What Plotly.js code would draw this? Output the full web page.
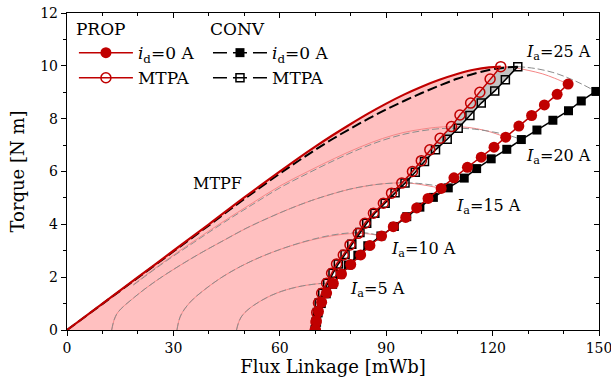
<!DOCTYPE html>
<html>
<head>
<meta charset="utf-8">
<script src="https://cdn.plot.ly/plotly-3.0.1.min.js"></script>
<style>html,body{margin:0;padding:0;background:#fff;}#chart{width:611px;height:385px;}</style>
</head>
<body>
<div id="chart"></div>
<script>
// ---------------- data (flux linkage in mWb, torque in Nm) ----------------
// MTPF boundaries
const mtpfPropFlux   = [0, 10, 20, 30, 40, 50, 60, 65, 70, 75, 80, 85, 90, 95, 100, 105, 110, 115, 119, 122.3];
const mtpfPropTorque = [0, 1.0, 2.0, 3.0, 4.0, 5.02, 6.0, 6.48, 6.94, 7.38, 7.8, 8.2, 8.57, 8.91, 9.21, 9.47, 9.69, 9.86, 9.94, 9.97];
const mtpfConvFlux   = [0, 10, 20, 30, 40, 50, 60, 65, 70, 75, 80, 85, 90, 95, 100, 105, 110, 115, 120, 124, 127.1];
const mtpfConvTorque = [0, 0.99, 1.98, 2.97, 3.96, 4.96, 5.92, 6.38, 6.82, 7.24, 7.63, 8.0, 8.35, 8.67, 8.97, 9.25, 9.51, 9.71, 9.87, 9.94, 9.97];

// id = 0 trajectories (0..25 A)
const id0PropFlux   = [70.0, 70.3, 70.9, 71.8, 73.2, 75.1, 77.4, 80.0, 82.8, 85.4, 88.7, 92.0, 95.5, 98.6, 101.8, 105.5, 109.1, 112.9, 116.8, 120.4, 123.7, 127.4, 131.0, 134.6, 138.2, 141.3];
const id0PropTorque = [0, 0.35, 0.70, 1.05, 1.40, 1.76, 2.12, 2.48, 2.84, 3.20, 3.56, 3.91, 4.26, 4.62, 4.98, 5.36, 5.76, 6.16, 6.54, 6.92, 7.30, 7.72, 8.12, 8.52, 8.92, 9.31];
const id0ConvFlux   = [70.0, 70.2, 70.8, 71.7, 73.1, 74.9, 77.0, 79.3, 82.0, 84.8, 88.5, 92.3, 95.8, 99.5, 103.3, 107.5, 112.0, 115.5, 119.6, 124.0, 128.1, 132.5, 137.0, 141.4, 145.0, 149.1];
const id0ConvTorque = [0, 0.30, 0.65, 1.00, 1.37, 1.73, 2.10, 2.46, 2.83, 3.19, 3.56, 3.92, 4.29, 4.65, 5.02, 5.38, 5.75, 6.11, 6.48, 6.84, 7.21, 7.57, 7.94, 8.30, 8.67, 9.03];

// MTPA trajectories (0..25 A)
const mtpaPropFlux   = [70.0, 70.2, 70.4, 70.9, 71.8, 73.2, 74.6, 76.0, 77.9, 79.8, 82.1, 84.0, 86.4, 89.2, 91.5, 94.4, 97.4, 99.9, 102.3, 105.2, 108.4, 110.8, 113.8, 116.4, 119.3, 122.3];
const mtpaPropTorque = [0, 0.30, 0.66, 1.02, 1.39, 1.77, 2.15, 2.50, 2.84, 3.22, 3.66, 4.04, 4.42, 4.80, 5.18, 5.56, 6.00, 6.41, 6.82, 7.26, 7.70, 8.14, 8.59, 9.00, 9.50, 9.97];
const mtpaConvFlux   = [70.0, 70.3, 70.6, 71.1, 72.1, 73.5, 75.0, 76.5, 78.4, 80.3, 82.6, 84.5, 86.8, 89.7, 92.5, 95.3, 98.2, 100.8, 103.9, 107.2, 110.3, 113.6, 116.8, 120.6, 123.6, 127.1];
const mtpaConvTorque = [0, 0.30, 0.66, 1.02, 1.39, 1.77, 2.15, 2.50, 2.86, 3.25, 3.69, 4.04, 4.42, 4.80, 5.20, 5.56, 5.97, 6.38, 6.82, 7.22, 7.64, 8.12, 8.59, 9.05, 9.47, 9.97];

// constant-current loci, PROP
const arcProp5Flux    = [47.8, 48.3, 49.1, 50.6, 52.6, 55.0, 57.6, 60.4, 63.4, 66.4, 69.4, 71.5, 73.2, 75.1];
const arcProp5Torque  = [0, 0.25, 0.49, 0.72, 0.93, 1.13, 1.31, 1.46, 1.58, 1.67, 1.73, 1.76, 1.77, 1.76];
const arcProp10Flux   = [31.0, 32.0, 34.7, 38.8, 43.7, 49.0, 54.7, 60.5, 66.5, 72.0, 77.0, 82.1, 85.5, 88.7];
const arcProp10Torque = [0, 0.53, 1.05, 1.53, 2.0, 2.41, 2.77, 3.07, 3.32, 3.5, 3.61, 3.66, 3.63, 3.56];
const arcProp15Flux   = [12.6, 14.0, 19.1, 25.0, 31.3, 37.8, 44.3, 50.5, 56.9, 63.0, 68.9, 74.5, 79.7, 84.7, 89.5, 94.4, 98.0, 101.8, 105.5];
const arcProp15Torque = [0, 0.6, 1.25, 1.85, 2.4, 2.92, 3.4, 3.85, 4.25, 4.6, 4.9, 5.14, 5.33, 5.46, 5.54, 5.57, 5.54, 5.46, 5.36];
const arcProp20Flux   = [18.7, 27.0, 35.6, 44.0, 52.2, 60.0, 67.9, 75.5, 82.5, 89.0, 95.0, 100.0, 104.0, 108.4, 113.0, 118.0, 123.7];
const arcProp20Torque = [1.72, 2.55, 3.35, 4.1, 4.8, 5.45, 6.0, 6.5, 6.92, 7.25, 7.48, 7.6, 7.67, 7.70, 7.67, 7.55, 7.30];
const arcProp25Flux   = [122.3, 126.0, 130.0, 134.0, 137.5, 141.3];
const arcProp25Torque = [9.97, 9.93, 9.83, 9.7, 9.53, 9.31];

// constant-current loci, CONV
const arcConv5Flux    = [47.8, 48.3, 49.1, 50.6, 52.6, 55.0, 57.6, 60.4, 63.4, 66.4, 69.4, 71.6, 73.5, 74.9];
const arcConv5Torque  = [0, 0.25, 0.49, 0.72, 0.93, 1.13, 1.31, 1.46, 1.58, 1.67, 1.73, 1.76, 1.77, 1.73];
const arcConv10Flux   = [31.0, 32.0, 34.7, 38.8, 43.7, 49.0, 54.7, 60.5, 66.5, 72.0, 77.0, 82.6, 85.6, 88.5];
const arcConv10Torque = [0, 0.53, 1.05, 1.53, 2.0, 2.41, 2.77, 3.07, 3.33, 3.52, 3.64, 3.69, 3.65, 3.56];
const arcConv15Flux   = [12.6, 14.0, 19.1, 25.0, 31.3, 37.8, 44.3, 50.5, 56.9, 63.0, 68.9, 74.5, 79.7, 84.7, 89.5, 95.3, 99.0, 103.3, 107.5];
const arcConv15Torque = [0, 0.6, 1.25, 1.85, 2.4, 2.92, 3.4, 3.85, 4.25, 4.6, 4.9, 5.14, 5.33, 5.46, 5.54, 5.57, 5.55, 5.48, 5.38];
const arcConv20Flux   = [18.7, 27.0, 35.6, 44.0, 52.2, 60.0, 67.9, 75.5, 82.5, 89.0, 95.0, 100.0, 105.0, 110.3, 115.0, 120.0, 124.5, 128.1];
const arcConv20Torque = [1.7, 2.52, 3.3, 4.05, 4.74, 5.38, 5.93, 6.43, 6.85, 7.18, 7.41, 7.54, 7.62, 7.64, 7.6, 7.5, 7.37, 7.21];
const arcConv25Flux   = [127.1, 132.0, 137.0, 141.0, 145.0, 149.1];
const arcConv25Torque = [9.97, 9.9, 9.75, 9.56, 9.32, 9.03];

// annotation labels
const currentLabels = ['<i>I</i><sub>a</sub>=5 A', '<i>I</i><sub>a</sub>=10 A', '<i>I</i><sub>a</sub>=15 A', '<i>I</i><sub>a</sub>=20 A', '<i>I</i><sub>a</sub>=25 A'];
const labelFlux   = [87.5, 100.5, 118.8, 138.6, 138.6];
const labelTorque = [1.55, 3.03, 4.66, 6.57, 10.5];

// ---------------- styling ----------------
const RED = '#C00000';
const FONT = '"DejaVu Serif"';
const pinkArc = {color: 'rgb(245,135,135)', width: 1, shape: 'spline'};
const grayArc = {color: 'rgb(140,140,140)', width: 1, dash: '7px,3px', shape: 'spline'};

const traces = [];
// pink feasible region
traces.push({
  x: mtpfPropFlux.concat(mtpaPropFlux.slice().reverse()).concat([0]),
  y: mtpfPropTorque.concat(mtpaPropTorque.slice().reverse()).concat([0]),
  mode: 'lines', fill: 'toself', fillcolor: 'rgb(255,192,192)',
  line: {width: 0}, hoverinfo: 'skip', showlegend: false
});
// gray band between MTPA trajectories
traces.push({
  x: mtpaPropFlux.concat(mtpaConvFlux.slice().reverse()),
  y: mtpaPropTorque.concat(mtpaConvTorque.slice().reverse()),
  mode: 'lines', fill: 'toself', fillcolor: 'rgb(195,195,195)',
  line: {width: 0}, hoverinfo: 'skip', showlegend: false
});
// current arcs
[[arcProp5Flux, arcProp5Torque], [arcProp10Flux, arcProp10Torque], [arcProp15Flux, arcProp15Torque],
 [arcProp20Flux, arcProp20Torque], [arcProp25Flux, arcProp25Torque]].forEach(a => {
  traces.push({x: a[0], y: a[1], mode: 'lines', line: pinkArc, showlegend: false, hoverinfo: 'skip'});
});
[[arcConv5Flux, arcConv5Torque], [arcConv10Flux, arcConv10Torque], [arcConv15Flux, arcConv15Torque],
 [arcConv20Flux, arcConv20Torque], [arcConv25Flux, arcConv25Torque]].forEach(a => {
  traces.push({x: a[0], y: a[1], mode: 'lines', line: grayArc, showlegend: false, hoverinfo: 'skip'});
});

// MTPF lines
traces.push({x: mtpfConvFlux, y: mtpfConvTorque, mode: 'lines', line: {color: '#000', width: 2, dash: '10px,4px', shape: 'spline'}, showlegend: false});
traces.push({x: mtpfPropFlux, y: mtpfPropTorque, mode: 'lines', line: {color: RED, width: 2.2, shape: 'spline'}, showlegend: false});

// CONV trajectories
traces.push({x: id0ConvFlux, y: id0ConvTorque, mode: 'lines+markers', line: {color: '#000', width: 1.5},
  marker: {symbol: 'square', size: 9, color: '#000'}, showlegend: false});
traces.push({x: mtpaConvFlux, y: mtpaConvTorque, mode: 'lines+markers', line: {color: '#000', width: 1.5},
  marker: {symbol: 'square', size: 8, color: 'rgba(255,255,255,0)', line: {color: '#000', width: 1.5}}, showlegend: false});
// PROP trajectories
traces.push({x: id0PropFlux, y: id0PropTorque, mode: 'lines+markers', line: {color: RED, width: 1.5},
  marker: {symbol: 'circle', size: 11, color: RED}, showlegend: false});
traces.push({x: mtpaPropFlux, y: mtpaPropTorque, mode: 'lines+markers', line: {color: RED, width: 1.5},
  marker: {symbol: 'circle-open', size: 10, color: RED, line: {width: 1.5}}, showlegend: false});

// legend entries
traces.push({x: [null], y: [null], mode: 'lines+markers', name: '<i>i</i><sub>d</sub>=0 A', legend: 'legend',
  line: {color: RED, width: 1.5}, marker: {symbol: 'circle', size: 11, color: RED}});
traces.push({x: [null], y: [null], mode: 'lines+markers', name: 'MTPA', legend: 'legend',
  line: {color: RED, width: 1.5}, marker: {symbol: 'circle-open', size: 10, color: RED, line: {width: 1.5}}});
traces.push({x: [null], y: [null], mode: 'lines+markers', name: '<i>i</i><sub>d</sub>=0 A', legend: 'legend2',
  line: {color: '#000', width: 1.5, dash: '14px,6px'}, marker: {symbol: 'square', size: 9, color: '#000'}});
traces.push({x: [null], y: [null], mode: 'lines+markers', name: 'MTPA', legend: 'legend2',
  line: {color: '#000', width: 1.5, dash: '14px,6px'}, marker: {symbol: 'square-open', size: 8, color: '#000', line: {width: 1.5}}});

// dummy for mirrored (inside) axes
traces.push({x: [null], y: [null], xaxis: 'x2', yaxis: 'y2', mode: 'markers', showlegend: false, hoverinfo: 'skip'});

const annotations = currentLabels.map((t, i) => ({
  x: labelFlux[i], y: labelTorque[i], xref: 'x', yref: 'y', text: t, showarrow: false,
  font: {family: FONT, size: 16, color: '#000'}
}));
annotations.push({x: 42.4, y: 5.53, xref: 'x', yref: 'y', text: 'MTPF', showarrow: false,
  font: {family: FONT, size: 16, color: '#000'}});

const axisCommon = {showgrid: false, zeroline: false, showline: true, linecolor: '#000', linewidth: 1.2,
  tickcolor: '#000', tickwidth: 1, ticklen: 5};

const layout = {
  width: 611, height: 385,
  margin: {l: 67, r: 12, t: 13, b: 55},
  paper_bgcolor: '#fff', plot_bgcolor: '#fff',
  font: {family: FONT, color: '#000'},
  showlegend: true,
  xaxis: Object.assign({}, axisCommon, {
    range: [0, 150], dtick: 30, tick0: 0, ticks: 'outside', ticklabeloverflow: 'allow',
    minor: {dtick: 10, ticks: 'outside', ticklen: 3, tickcolor: '#000'},
    tickfont: {family: FONT, size: 14},
    title: {text: 'Flux Linkage [mWb]', font: {family: FONT, size: 18}, standoff: 4}
  }),
  yaxis: Object.assign({}, axisCommon, {
    range: [0, 12], dtick: 2, tick0: 0, ticks: 'outside', ticklabeloverflow: 'allow',
    minor: {dtick: 1, ticks: 'outside', ticklen: 3, tickcolor: '#000'},
    tickfont: {family: FONT, size: 14},
    title: {text: 'Torque [N m]', font: {family: FONT, size: 18}, standoff: 10}
  }),
  xaxis2: Object.assign({}, axisCommon, {
    overlaying: 'x', side: 'top', anchor: 'y2', range: [0, 150], dtick: 30, ticks: 'inside',
    minor: {dtick: 10, ticks: 'inside', ticklen: 3, tickcolor: '#000'}, showticklabels: false
  }),
  yaxis2: Object.assign({}, axisCommon, {
    overlaying: 'y', side: 'right', anchor: 'x2', range: [0, 12], dtick: 2, ticks: 'inside',
    minor: {dtick: 1, ticks: 'inside', ticklen: 3, tickcolor: '#000'}, showticklabels: false
  }),
  legend: {
    title: {text: 'PROP', font: {family: FONT, size: 17}},
    x: 0.013, y: 1.0, xanchor: 'left', yanchor: 'top', bgcolor: 'rgba(0,0,0,0)',
    font: {family: FONT, size: 17}, itemwidth: 54, tracegroupgap: 0
  },
  legend2: {
    title: {text: 'CONV', font: {family: FONT, size: 17}},
    x: 0.265, y: 1.0, xanchor: 'left', yanchor: 'top', bgcolor: 'rgba(0,0,0,0)',
    font: {family: FONT, size: 17}, itemwidth: 54, tracegroupgap: 0
  },
  annotations: annotations
};

Plotly.newPlot('chart', traces, layout, {displayModeBar: false, staticPlot: true});
</script>
</body>
</html>
